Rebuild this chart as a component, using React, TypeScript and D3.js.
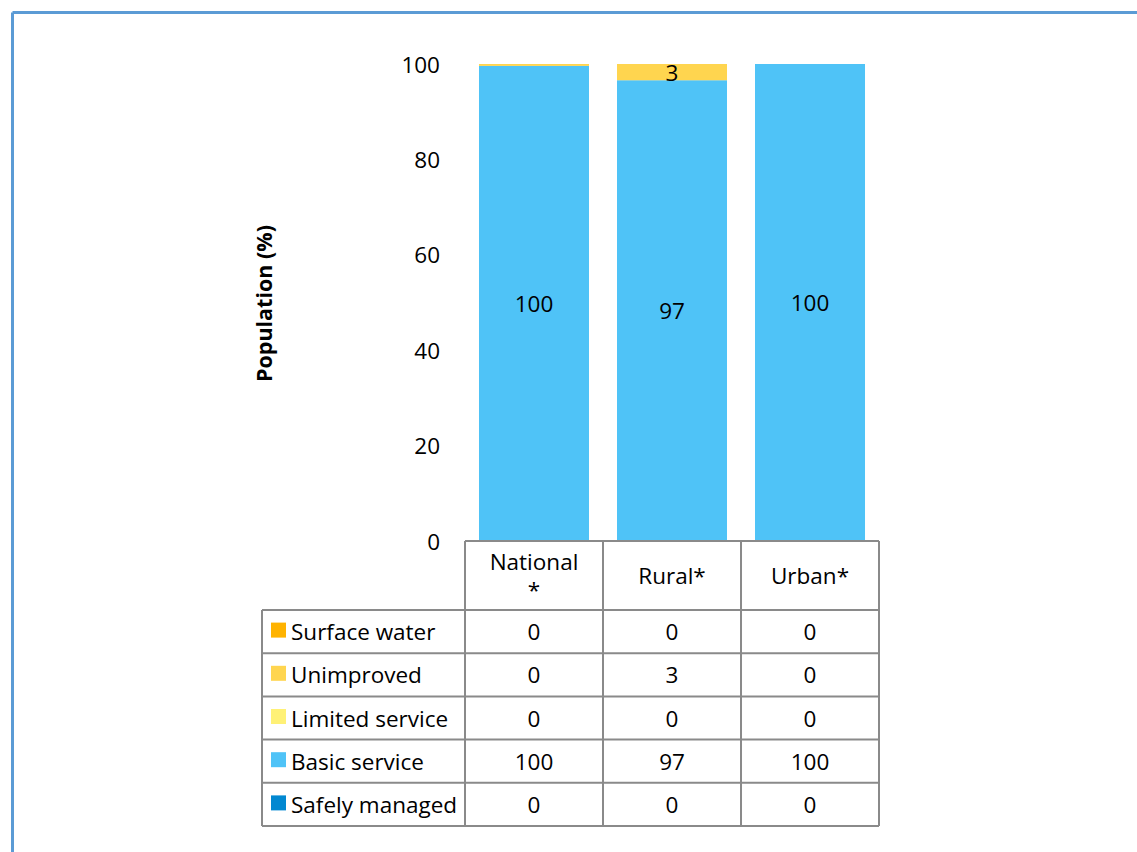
import React from "react";
import * as d3 from "d3";

const categories = ["National\n*", "Rural*", "Urban*"];
const seriesNames = ["Safely managed", "Basic service", "Limited service", "Unimproved", "Surface water"];
const seriesColors = ["#0288D1", "#4FC3F7", "#FFF176", "#FFD54F", "#FFB300"];
const safelyManaged = [0, 0, 0];
const basicService = [99.6, 96.6, 100];
const limitedService = [0, 0, 0];
const unimproved = [0.4, 3.4, 0];
const surfaceWater = [0, 0, 0];
const yTicks = [0, 20, 40, 60, 80, 100];

const seriesValues = [safelyManaged, basicService, limitedService, unimproved, surfaceWater];

export default function App() {
  const W = 1137, H = 852;
  const font = "'Open Sans', sans-serif";
  const fs = 22.5;
  const plotL = 465, plotR = 879, plotT = 64, plotB = 541;
  const x = d3.scaleBand<string>().domain(categories).range([plotL, plotR]).paddingInner(0.2029).paddingOuter(0.1014);
  const y = d3.scaleLinear().domain([0, 100]).range([plotB, plotT]);
  const bw = x.bandwidth();
  const step = x.step();
  const colX = categories.map((_, i) => plotL + i * step);

  const table = categories.map((c, i) => {
    const o: any = { cat: c };
    seriesNames.forEach((s, j) => (o[s] = seriesValues[j][i]));
    return o;
  });
  const stack = d3.stack<any>().keys(seriesNames)(table);

  const headerB = 610;
  const rowH = 43.2;
  const legendL = 262;
  const tableRows = [...seriesNames].reverse();
  const lineColor = "#8a8a8a";

  return (
    <svg width={W} height={H} style={{ position: "absolute", left: 0, top: 0 }} fontFamily={font}>
      <rect x={0} y={0} width={W} height={H} fill="#fff" />
      <line x1={12.5} y1={12.5} x2={W} y2={12.5} stroke="#5B9BD5" strokeWidth={3} />
      <line x1={12.5} y1={12.5} x2={12.5} y2={H} stroke="#5B9BD5" strokeWidth={3} />

      {yTicks.map((t) => (
        <text key={t} x={440} y={y(t)} textAnchor="end" dominantBaseline="central" fontSize={fs} fill="#000">
          {t}
        </text>
      ))}
      <text transform={`translate(263,${(plotT + plotB) / 2 + 1}) rotate(-90)`} textAnchor="middle" dominantBaseline="central" fontSize={21.5} fontWeight="bold">
        Population (%)
      </text>

      {stack.map((layer, j) =>
        layer.map((d, i) => {
          const h = y(d[0]) - y(d[1]);
          if (h <= 0) return null;
          return (
            <rect key={`${j}-${i}`} x={x(categories[i])!} y={y(d[1])} width={bw} height={h} fill={seriesColors[j]} />
          );
        })
      )}
      {stack.map((layer, j) =>
        layer.map((d, i) => {
          const v = Math.round(seriesValues[j][i]);
          if (v <= 0) return null;
          return (
            <text key={`l${j}-${i}`} x={x(categories[i])! + bw / 2} y={(y(d[0]) + y(d[1])) / 2} textAnchor="middle" dominantBaseline="central" fontSize={fs}>
              {v}
            </text>
          );
        })
      )}

      {categories.map((c, i) => {
        const lines = c.split("\n");
        const cx = colX[i] + step / 2;
        const cy = (plotB + headerB) / 2;
        return lines.map((ln, k) => (
          <text key={`h${i}-${k}`} x={cx} y={cy + (k - (lines.length - 1) / 2) * 28} textAnchor="middle" dominantBaseline="central" fontSize={fs}>
            {ln}
          </text>
        ));
      })}

      {tableRows.map((s, r) => {
        const j = seriesNames.indexOf(s);
        const top = headerB + r * rowH;
        const cy = top + rowH / 2;
        return (
          <g key={s}>
            <rect x={271} y={cy - 9} width={15} height={15} fill={seriesColors[j]} />
            <text x={291} y={cy} dominantBaseline="central" fontSize={fs}>
              {s}
            </text>
            {categories.map((c, i) => (
              <text key={c} x={colX[i] + step / 2} y={cy} textAnchor="middle" dominantBaseline="central" fontSize={fs}>
                {Math.round(seriesValues[j][i])}
              </text>
            ))}
          </g>
        );
      })}

      <g stroke={lineColor} strokeWidth={2}>
        <line x1={plotL} y1={plotB} x2={plotR} y2={plotB} />
        {[...colX, plotR].map((cx, i) => (
          <line key={`v${i}`} x1={cx} y1={plotB} x2={cx} y2={headerB + tableRows.length * rowH} />
        ))}
        <line x1={legendL} y1={headerB} x2={legendL} y2={headerB + tableRows.length * rowH} />
        {d3.range(tableRows.length + 1).map((r) => (
          <line key={`h${r}`} x1={legendL} y1={headerB + r * rowH} x2={plotR} y2={headerB + r * rowH} />
        ))}
      </g>
    </svg>
  );
}
